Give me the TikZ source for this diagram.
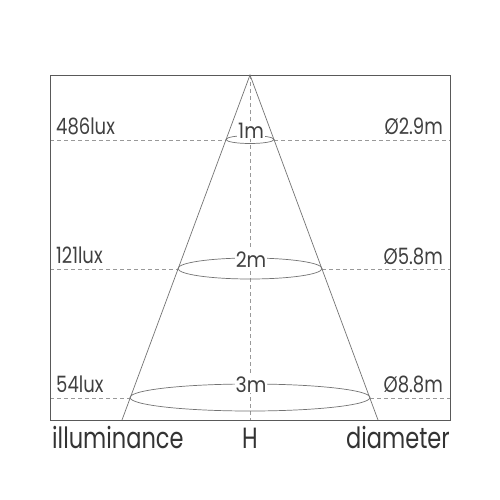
\documentclass[tikz,border=0pt]{standalone}
\usepackage{fontspec}
\setmainfont{Poppins}
\newcommand{\tallA}[1]{\scalebox{1}[1.25]{#1}}
\newcommand{\tallB}[1]{\scalebox{1}[1.3]{#1}}
\newcommand{\tallC}[1]{\scalebox{1}[1.12]{#1}}
\begin{document}
\begin{tikzpicture}[x=1pt,y=-1pt,
  frame/.style={draw=black!65,line width=0.9pt},
  cone/.style={draw=black!55,line width=0.7pt},
  guide/.style={draw=black!40,dashed,dash pattern=on 4pt off 3pt,line width=0.6pt},
  lbl/.style={text=black!75,font=\fontsize{18}{18}\selectfont,inner sep=0pt},
  big/.style={text=black!80,font=\fontsize{22.5}{22.5}\selectfont,inner sep=0pt},
  dist/.style={text=black!75,font=\fontsize{19}{19}\selectfont,fill=white,inner sep=1pt,anchor=base}]
\useasboundingbox (0,0) rectangle (500,500);
\fill[white] (0,0) rectangle (500,500);
\coordinate (apex) at (250,75);
\coordinate (bl) at (122,420);
\coordinate (br) at (378,420);
% guides
\draw[guide] (250,75) -- (250,420);
\draw[guide] (50,140) -- (226,140);
\draw[guide] (274,140) -- (450,140);
\draw[guide] (50,269) -- (178,269);
\draw[guide] (322,269) -- (450,269);
\draw[guide] (50,398) -- (130,398);
\draw[guide] (370,398) -- (450,398);
% frame
\draw[frame] (50,75) rectangle (450,420);
% cone
\draw[cone] (bl) -- (apex) -- (br);
\draw[cone] (250,139.5) ellipse [x radius=24, y radius=4];
\draw[cone] (250,268.5) ellipse [x radius=72, y radius=10.5];
\draw[cone] (250,397.5) ellipse [x radius=120, y radius=13.5];
% distance labels
\node[dist] (d1) at (251,138) {\tallC{1m}};
\node[dist] (d2) at (251,267) {\tallC{2m}};
\node[dist] (d3) at (251,392) {\tallC{3m}};
% illuminance
\node[lbl,anchor=base west] (l1) at (56,134) {\tallA{486lux}};
\node[lbl,anchor=base west] (l2) at (56,263) {\tallA{121lux}};
\node[lbl,anchor=base west] (l3) at (56,392) {\tallA{54lux}};
% diameters
\node[lbl,anchor=base east] (r1) at (443,135) {\tallA{Ø2.9m}};
\node[lbl,anchor=base east] (r2) at (443,264) {\tallA{Ø5.8m}};
\node[lbl,anchor=base east] (r3) at (443,392) {\tallA{Ø8.8m}};
% bottom
\node[big,anchor=base west] (ill) at (52,448) {\tallB{illuminance}};
\node[big,anchor=base] (h) at (250,448) {\tallB{H}};
\node[big,anchor=base east] (dia) at (450,448) {\tallB{diameter}};
\end{tikzpicture}
\end{document}
